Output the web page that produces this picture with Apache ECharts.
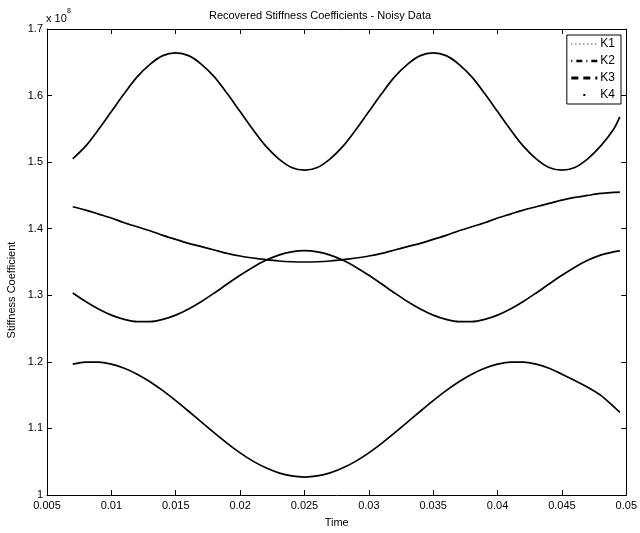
<!DOCTYPE html>
<html>
<head>
<meta charset="UTF-8">
<title>Recovered Stiffness Coefficients - Noisy Data</title>
<script src="https://cdn.jsdelivr.net/npm/echarts@6/dist/echarts.min.js"></script>
<style>
  html, body { margin: 0; padding: 0; background: #fff; }
  #chart { width: 640px; height: 533px; }
</style>
</head>
<body>
<div id="chart"></div>
<script>
// time samples (s)
var time = [0.007, 0.008, 0.009, 0.010, 0.011, 0.012, 0.013, 0.014, 0.015, 0.016,
            0.017, 0.018, 0.019, 0.020, 0.021, 0.022, 0.023, 0.024, 0.025, 0.026,
            0.027, 0.028, 0.029, 0.030, 0.031, 0.032, 0.033, 0.034, 0.035, 0.036,
            0.037, 0.038, 0.039, 0.040, 0.041, 0.042, 0.043, 0.044, 0.045, 0.046,
            0.047, 0.048, 0.049, 0.0495];

// stiffness values, x 1e8
var k1 = [1.505, 1.524, 1.549, 1.576, 1.603, 1.628, 1.647, 1.660, 1.664, 1.660,
          1.647, 1.628, 1.603, 1.576, 1.549, 1.524, 1.505, 1.492, 1.488, 1.492,
          1.505, 1.524, 1.549, 1.576, 1.603, 1.628, 1.647, 1.660, 1.664, 1.660,
          1.647, 1.628, 1.603, 1.576, 1.549, 1.524, 1.505, 1.492, 1.488, 1.492,
          1.505, 1.524, 1.549, 1.568];
var k2 = [1.433, 1.428, 1.422, 1.416, 1.409, 1.403, 1.397, 1.390, 1.384, 1.378,
          1.373, 1.368, 1.363, 1.359, 1.356, 1.3535, 1.3515, 1.3504, 1.350, 1.3504,
          1.3515, 1.3535, 1.356, 1.359, 1.363, 1.368, 1.373, 1.378, 1.384, 1.390,
          1.397, 1.403, 1.409, 1.416, 1.422, 1.428, 1.433, 1.438, 1.443, 1.447,
          1.450, 1.453, 1.4545, 1.455];
var k3 = [1.3035, 1.2907, 1.2794, 1.2702, 1.2638, 1.2604, 1.2604, 1.2638, 1.2702, 1.2794,
          1.2907, 1.3035, 1.3169, 1.3300, 1.3422, 1.3525, 1.3604, 1.3653, 1.367, 1.3653,
          1.3604, 1.3525, 1.3422, 1.3300, 1.3169, 1.3035, 1.2907, 1.2794, 1.2702, 1.2638,
          1.2604, 1.2604, 1.2638, 1.2702, 1.2794, 1.2907, 1.3035, 1.3169, 1.3300, 1.3422,
          1.3525, 1.3604, 1.3653, 1.3666];
var k4 = [1.1965, 1.1996, 1.1996, 1.1965, 1.1904, 1.1815, 1.1702, 1.1568, 1.1418, 1.1258,
          1.1094, 1.0932, 1.0776, 1.0633, 1.0509, 1.0408, 1.0332, 1.0286, 1.027, 1.0286,
          1.0332, 1.0408, 1.0509, 1.0633, 1.0776, 1.0932, 1.1094, 1.1258, 1.1418, 1.1568,
          1.1702, 1.1815, 1.1904, 1.1965, 1.1996, 1.1996, 1.1965, 1.1904, 1.1815, 1.172,
          1.162, 1.150, 1.133, 1.124];

var names = ['K1', 'K2', 'K3', 'K4'];
var values = [k1, k2, k3, k4];

var font = 'Liberation Sans, Arial, sans-serif';

function pairs(ys) {
    return time.map(function (t, i) { return [t, ys[i]]; });
}

var series = names.map(function (n, i) {
    return {
        name: n,
        type: 'line',
        data: pairs(values[i]),
        symbol: 'none',
        smooth: 0.3,
        lineStyle: { color: '#000', width: 1.7 },
        itemStyle: { color: '#000' },
        silent: true
    };
});

// legend icons: line only, no marker
var noMarker = { color: 'rgba(0,0,0,0)', borderWidth: 0, opacity: 0 };

var chart = echarts.init(document.getElementById('chart'));
chart.setOption({
    animation: false,
    backgroundColor: '#fff',
    title: {
        text: 'Recovered Stiffness Coefficients - Noisy Data',
        left: 'center',
        top: 5,
        textStyle: { fontFamily: font, fontSize: 11, fontWeight: 'normal', color: '#000' }
    },
    grid: { left: 47, right: 11, top: 29, bottom: 38 },
    legend: {
        orient: 'vertical',
        right: 19,
        top: 35,
        backgroundColor: '#fff',
        borderColor: '#000',
        borderWidth: 1,
        borderRadius: 0,
        padding: [3, 6, 3, 3],
        itemWidth: 26,
        itemHeight: 10,
        itemGap: 5,
        textStyle: { fontFamily: font, fontSize: 12, color: '#000', padding: [0, 0, 0, -2] },
        data: [
            { name: 'K1', itemStyle: noMarker, lineStyle: { type: [1, 3], width: 1 } },
            { name: 'K2', itemStyle: noMarker, lineStyle: { type: [1, 4, 6, 4], width: 2.5 } },
            { name: 'K3', itemStyle: noMarker, lineStyle: { type: [7, 5], width: 3 } },
            { name: 'K4', itemStyle: noMarker, lineStyle: { type: [2, 60], dashOffset: -12, width: 2 } }
        ]
    },
    xAxis: [{
        type: 'value',
        min: 0.005,
        max: 0.05,
        interval: 0.005,
        name: 'Time',
        nameLocation: 'middle',
        nameGap: 22,
        nameTextStyle: { fontFamily: font, fontSize: 11, color: '#000' },
        axisLine: { lineStyle: { color: '#000', width: 1 } },
        axisTick: { inside: true, length: 5, lineStyle: { color: '#000' } },
        axisLabel: { fontFamily: font, fontSize: 11, color: '#000', margin: 5 },
        splitLine: { show: false }
    }, {
        type: 'value',
        position: 'top',
        min: 0.005,
        max: 0.05,
        interval: 0.005,
        axisLine: { lineStyle: { color: '#000', width: 1 } },
        axisTick: { inside: true, length: 5, lineStyle: { color: '#000' } },
        axisLabel: { show: false },
        splitLine: { show: false }
    }],
    yAxis: [{
        type: 'value',
        min: 1,
        max: 1.7,
        interval: 0.1,
        axisLine: { show: true, lineStyle: { color: '#000', width: 1 } },
        axisTick: { show: true, inside: true, length: 5, lineStyle: { color: '#000' } },
        axisLabel: { fontFamily: font, fontSize: 11, color: '#000', margin: 4 },
        splitLine: { show: false }
    }, {
        type: 'value',
        position: 'right',
        min: 1,
        max: 1.7,
        interval: 0.1,
        axisLine: { show: true, lineStyle: { color: '#000', width: 1 } },
        axisTick: { show: true, inside: true, length: 5, lineStyle: { color: '#000' } },
        axisLabel: { show: false },
        splitLine: { show: false }
    }],
    graphic: [
        {
            type: 'text', left: 46, top: 13,
            style: { text: 'x 10', font: '11px ' + font, fill: '#000' }
        },
        {
            type: 'text', left: 67, top: 8,
            style: { text: '8', font: '7px ' + font, fill: '#000' }
        },
        {
            type: 'text', x: 12, y: 290, rotation: Math.PI / 2,
            style: { text: 'Stiffness Coefficient', font: '11px ' + font, fill: '#000',
                     align: 'center', verticalAlign: 'middle' }
        }
    ],
    series: series
});
</script>
</body>
</html>
